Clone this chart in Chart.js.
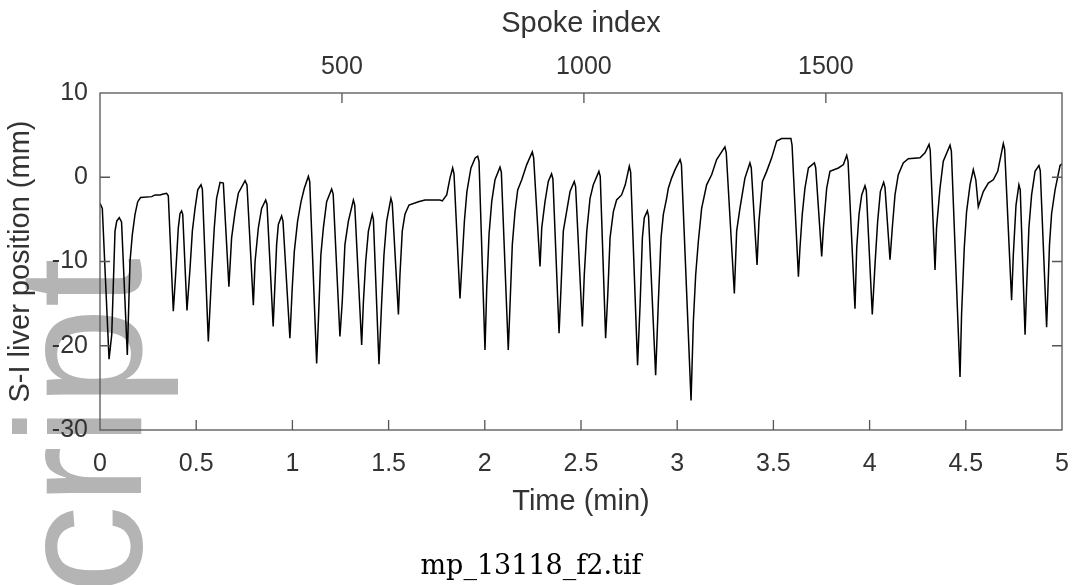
<!DOCTYPE html>
<html>
<head>
<meta charset="utf-8">
<script src="https://cdn.jsdelivr.net/npm/chart.js@4.4.1/dist/chart.umd.min.js"></script>
<style>
  html, body { margin: 0; padding: 0; background: #ffffff; }
  #wrap { position: relative; width: 1073px; height: 585px; }
  canvas { display: block; }
</style>
</head>
<body>
<div id="wrap"><canvas id="chart" width="1073" height="585"></canvas></div>
<script>
// ---- data (time in minutes, S-I liver position in mm) ----
const timeMin = [
  0.000, 0.012, 0.047, 0.061, 0.078, 0.087, 0.100, 0.112, 0.142,
  0.156, 0.168, 0.182, 0.196, 0.211, 0.269, 0.286, 0.312, 0.329, 0.346, 0.355, 0.381,
  0.393, 0.407, 0.416, 0.424, 0.430, 0.452,
  0.468, 0.480, 0.494, 0.508, 0.525, 0.532, 0.563,
  0.580, 0.594, 0.606, 0.624, 0.641, 0.670,
  0.684, 0.702, 0.719, 0.754, 0.764, 0.797,
  0.806, 0.823, 0.840, 0.861, 0.868, 0.900,
  0.918, 0.927, 0.944, 0.951, 0.987,
  0.999, 1.010, 1.027, 1.045, 1.062, 1.083, 1.090, 1.126,
  1.135, 1.148, 1.161, 1.178, 1.204, 1.212, 1.247,
  1.259, 1.273, 1.291, 1.317, 1.324, 1.360,
  1.369, 1.381, 1.395, 1.415, 1.421, 1.450,
  1.464, 1.476, 1.490, 1.512, 1.519, 1.551,
  1.559, 1.571, 1.585, 1.606, 1.655, 1.689, 1.767, 1.779, 1.802, 1.819, 1.833, 1.840, 1.871,
  1.880, 1.894, 1.907, 1.928, 1.950, 1.963, 1.970, 2.001,
  2.010, 2.022, 2.036, 2.053, 2.079, 2.086, 2.122,
  2.131, 2.143, 2.157, 2.171, 2.192, 2.218, 2.247, 2.254, 2.287,
  2.296, 2.313, 2.330, 2.347, 2.354, 2.386,
  2.396, 2.408, 2.425, 2.443, 2.465, 2.472, 2.507,
  2.517, 2.530, 2.547, 2.564, 2.593, 2.600, 2.628,
  2.639, 2.651, 2.668, 2.685, 2.711, 2.730, 2.751, 2.758, 2.794,
  2.807, 2.819, 2.829, 2.845, 2.851, 2.888,
  2.902, 2.916, 2.928, 2.945, 2.954, 2.971, 2.989, 3.015, 3.022, 3.072,
  3.084, 3.096, 3.110, 3.127, 3.153, 3.179, 3.205, 3.248, 3.255, 3.297,
  3.309, 3.326, 3.352, 3.378, 3.385, 3.415,
  3.425, 3.443, 3.465, 3.491, 3.517, 3.543, 3.591, 3.597, 3.630,
  3.638, 3.650, 3.664, 3.682, 3.713, 3.720, 3.751,
  3.760, 3.777, 3.794, 3.838, 3.864, 3.881, 3.888, 3.924,
  3.933, 3.945, 3.959, 3.976, 3.983, 4.014,
  4.028, 4.042, 4.056, 4.073, 4.080, 4.106,
  4.118, 4.132, 4.149, 4.175, 4.201, 4.262, 4.288, 4.309, 4.315, 4.340,
  4.348, 4.366, 4.383, 4.418, 4.425, 4.470,
  4.478, 4.492, 4.504, 4.522, 4.539, 4.552, 4.565, 4.591, 4.617, 4.643, 4.666, 4.695, 4.702, 4.738,
  4.747, 4.761, 4.776, 4.783, 4.808,
  4.816, 4.828, 4.842, 4.860, 4.880, 4.887, 4.920,
  4.935, 4.946, 4.964, 4.990, 5.000
];
const positionMm = [
  -3.1, -3.7, -21.6, -18.7, -6.4, -5.2, -4.8, -5.3, -21.1,
  -10.0, -6.8, -4.4, -2.9, -2.4, -2.3, -2.1, -2.1, -2.0, -1.9, -2.2, -15.9,
  -11.6, -6.0, -4.3, -4.0, -4.4, -15.8,
  -10.8, -6.4, -3.7, -1.5, -0.9, -1.4, -19.5,
  -11.6, -6.0, -2.5, -0.6, -0.7, -13.0,
  -7.2, -4.1, -1.9, -0.4, -0.9, -15.2,
  -10.0, -6.0, -3.7, -2.7, -3.2, -17.7,
  -8.0, -5.6, -4.6, -5.2, -19.1,
  -13.2, -8.8, -5.2, -2.9, -1.3, 0.1, -0.5, -22.1,
  -17.1, -9.2, -6.0, -2.9, -1.4, -2.0, -18.9,
  -14.8, -8.0, -5.2, -2.7, -3.3, -19.9,
  -14.8, -10.0, -6.4, -4.4, -5.0, -22.2,
  -14.8, -9.2, -5.2, -2.5, -3.1, -16.3,
  -11.6, -6.4, -4.4, -3.3, -2.9, -2.7, -2.7, -2.8, -2.1, -0.1, 1.1, 0.4, -14.4,
  -10.8, -5.2, -1.7, 1.1, 2.3, 2.5, 1.9, -20.5,
  -13.2, -6.8, -2.9, -0.3, 1.2, 0.6, -20.5,
  -15.2, -8.0, -4.1, -1.5, -0.3, 1.5, 3.0, 2.3, -10.6,
  -6.0, -2.9, -0.5, 0.4, -0.2, -18.5,
  -13.2, -6.4, -4.1, -1.7, -0.5, -1.1, -17.7,
  -11.6, -6.4, -2.5, -0.9, 0.7, 0.1, -19.1,
  -14.0, -7.2, -4.1, -2.7, -2.1, -0.9, 1.3, 0.6, -22.3,
  -15.2, -7.2, -4.8, -4.0, -4.6, -23.5,
  -14.8, -7.2, -4.4, -2.5, -1.3, -0.1, 0.9, 2.1, 1.5, -26.5,
  -17.1, -11.6, -7.6, -3.7, -0.9, 0.3, 2.1, 3.6, 2.9, -13.8,
  -6.4, -3.7, -0.1, 1.7, 1.1, -10.4,
  -5.2, -0.5, 0.7, 2.3, 4.3, 4.6, 4.6, 3.8, -11.8,
  -8.4, -4.4, -1.3, 1.1, 1.7, 1.1, -9.4,
  -6.0, -1.3, 0.7, 1.1, 1.5, 2.6, 1.9, -15.6,
  -8.4, -4.4, -2.1, -1.0, -1.6, -16.3,
  -10.4, -5.2, -1.7, -0.6, -1.2, -9.8,
  -6.0, -2.1, 0.3, 1.7, 2.2, 2.3, 2.9, 3.9, 3.2, -11.0,
  -6.0, -1.3, 1.9, 3.8, 3.1, -23.7,
  -16.3, -8.4, -4.1, -0.9, 0.9, -0.3, -3.5, -1.7, -0.7, -0.3, 0.7, 4.0, 3.3, -14.6,
  -9.2, -3.3, -0.9, -1.5, -18.7,
  -13.2, -6.0, -2.1, 0.7, 1.4, 0.8, -17.8,
  -8.0, -4.3, -1.5, 1.4, 1.6
];
const timeTicks = [0, 0.5, 1, 1.5, 2, 2.5, 3, 3.5, 4, 4.5, 5];
const timeTickLabels = ['0', '0.5', '1', '1.5', '2', '2.5', '3', '3.5', '4', '4.5', '5'];
const positionTicks = [10, 0, -10, -20, -30];
const positionTickLabels = ['10', '0', '-10', '-20', '-30'];
const spokeTicks = [500, 1000, 1500];
const spokeTickLabels = ['500', '1000', '1500'];
const spokeMax = 1988;           // spoke index at t = 5 min
const captionText = 'mp_13118_f2.tif';
const watermarkText = 'script';

// ---- plugins ----
const watermark = {
  id: 'watermark',
  beforeDraw(chart) {
    const ctx = chart.ctx;
    ctx.save();
    ctx.translate(141, 258);
    ctx.rotate(-Math.PI / 2);
    ctx.font = '178px "Liberation Sans", Arial, sans-serif';
    ctx.textAlign = 'right';
    ctx.textBaseline = 'alphabetic';
    ctx.fillStyle = '#b4b4b4';
    ctx.fillText(watermarkText, 0, 0);
    ctx.restore();
  }
};

const frameTicks = {
  id: 'frameTicks',
  afterDraw(chart) {
    const { ctx, chartArea: a, scales } = chart;
    const L = 10;
    ctx.save();
    ctx.strokeStyle = '#555555';
    ctx.lineWidth = 1.3;
    ctx.strokeRect(a.left, a.top, a.right - a.left, a.bottom - a.top);
    ctx.beginPath();
    scales.x.ticks.forEach(t => {
      const p = scales.x.getPixelForValue(t.value);
      if (p > a.left + 1 && p < a.right - 1) { ctx.moveTo(p, a.bottom); ctx.lineTo(p, a.bottom - L); }
    });
    scales.x2.ticks.forEach(t => {
      const p = scales.x2.getPixelForValue(t.value);
      if (p > a.left + 1 && p < a.right - 1) { ctx.moveTo(p, a.top); ctx.lineTo(p, a.top + L); }
    });
    scales.y.ticks.forEach(t => {
      const p = scales.y.getPixelForValue(t.value);
      if (p > a.top + 1 && p < a.bottom - 1) {
        ctx.moveTo(a.left, p); ctx.lineTo(a.left + L, p);
        ctx.moveTo(a.right, p); ctx.lineTo(a.right - L, p);
      }
    });
    ctx.stroke();
    ctx.restore();
  }
};

const tickFont = { family: '"Liberation Sans", Arial, Helvetica, sans-serif', size: 25 };
const titleFont = { family: '"Liberation Sans", Arial, Helvetica, sans-serif', size: 29 };
const textColor = '#333333';

function labelFrom(values, labels) {
  return v => { const i = values.indexOf(v); return i >= 0 ? labels[i] : ''; };
}

new Chart(document.getElementById('chart'), {
  type: 'line',
  data: {
    datasets: [{
      label: 'S-I liver position',
      data: timeMin.map((t, i) => ({ x: t, y: positionMm[i] })),
      borderColor: '#000000',
      borderWidth: 1.5,
      pointRadius: 0,
      tension: 0,
      fill: false,
      xAxisID: 'x',
      yAxisID: 'y'
    }]
  },
  options: {
    responsive: false,
    animation: false,
    layout: { padding: { left: 0, right: 11, top: 0, bottom: 0 } },
    plugins: {
      legend: { display: false },
      tooltip: { enabled: false },
      title: {
        display: true,
        position: 'bottom',
        text: captionText,
        color: '#000000',
        font: { family: '"DejaVu Serif", "Liberation Serif", serif', size: 27, weight: 'normal' },
        padding: { top: 10, bottom: 2 }
      }
    },
    scales: {
      x: {
        type: 'linear',
        position: 'bottom',
        min: 0, max: 5,
        afterBuildTicks: s => { s.ticks = timeTicks.map(v => ({ value: v })); },
        afterFit: s => { s.height = 110.6; s.paddingLeft = 0; s.paddingRight = 0; },
        grid: { display: false, drawTicks: false },
        border: { display: false },
        ticks: { font: tickFont, color: textColor, padding: 19, maxRotation: 0, autoSkip: false,
                 callback: labelFrom(timeTicks, timeTickLabels) },
        title: { display: true, text: 'Time (min)', font: titleFont, color: textColor, padding: { top: 0, bottom: 21 } }
      },
      x2: {
        type: 'linear',
        position: 'top',
        min: 0, max: spokeMax,
        afterBuildTicks: s => { s.ticks = spokeTicks.map(v => ({ value: v })); },
        afterFit: s => { s.height = 93; s.paddingLeft = 0; s.paddingRight = 0; },
        grid: { display: false, drawTicks: false },
        border: { display: false },
        ticks: { font: tickFont, color: textColor, padding: 11, maxRotation: 0, autoSkip: false,
                 callback: labelFrom(spokeTicks, spokeTickLabels) },
        title: { display: true, text: 'Spoke index', font: titleFont, color: textColor, padding: { top: 7, bottom: 0 } }
      },
      y: {
        type: 'linear',
        position: 'left',
        min: -30, max: 10,
        afterBuildTicks: s => { s.ticks = positionTicks.map(v => ({ value: v })); },
        afterFit: s => { s.width = 100; },
        grid: { display: false, drawTicks: false },
        border: { display: false },
        ticks: { font: tickFont, color: textColor, padding: 12, autoSkip: false,
                 callback: labelFrom(positionTicks, positionTickLabels) },
        title: { display: true, text: 'S-I liver position (mm)', font: titleFont, color: textColor, padding: { top: 4, bottom: 0 } }
      }
    }
  },
  plugins: [watermark, frameTicks]
});
</script>
</body>
</html>
